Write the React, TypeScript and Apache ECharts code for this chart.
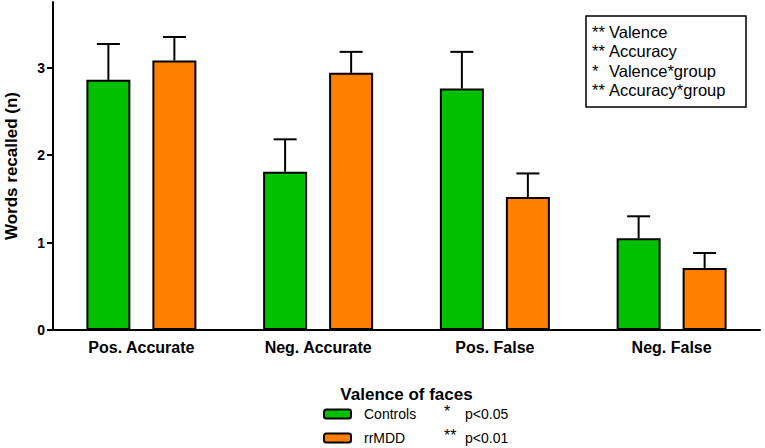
import React, { useEffect, useRef } from "react";
import * as echarts from "echarts";

const categories = ["Pos. Accurate", "Neg. Accurate", "Pos. False", "Neg. False"];
const controlsMean = [2.86, 1.81, 2.76, 1.05];
const controlsSem = [0.41, 0.37, 0.42, 0.25];
const rrmddMean = [3.08, 2.94, 1.52, 0.71];
const rrmddSem = [0.27, 0.24, 0.27, 0.17];
const yTicks = [0, 1, 2, 3];
const statsLines = [
  ["**", "Valence"],
  ["**", "Accuracy"],
  ["*", "Valence*group"],
  ["**", "Accuracy*group"],
];
const pLegend = [
  ["*", "p<0.05"],
  ["**", "p<0.01"],
];

const FONT = "'Liberation Sans', Arial, Helvetica, sans-serif";
const GREEN = "#00c000";
const ORANGE = "#ff8000";
const BAR_W = 44;
const OFFSET = 33;

function errorSeries(name: string, means: number[], sems: number[], dir: number) {
  return {
    type: "custom",
    name,
    z: 5,
    data: means.map((m, i) => [i, m, sems[i]]),
    renderItem: (params: any, api: any) => {
      const i = api.value(0);
      const v = api.value(1);
      const e = api.value(2);
      const base = api.coord([i, v]);
      const top = api.coord([i, v + e]);
      const cx = base[0] + dir * OFFSET;
      const st = { stroke: "#000", lineWidth: 2 };
      return {
        type: "group",
        children: [
          { type: "line", shape: { x1: cx, y1: base[1], x2: cx, y2: top[1] }, style: st },
          { type: "line", shape: { x1: cx - 11.5, y1: top[1], x2: cx + 11.5, y2: top[1] }, style: st },
        ],
      };
    },
  };
}

export default function App() {
  const ref = useRef<HTMLDivElement>(null);
  useEffect(() => {
    if (!ref.current) return;
    const chart = echarts.init(ref.current, undefined, { renderer: "svg" });
    const graphics: any[] = [
      {
        type: "rect",
        shape: { x: 586, y: 16, width: 160, height: 91 },
        style: { fill: "#fff", stroke: "#000", lineWidth: 1.5 },
        z: 10,
      },
    ];
    statsLines.forEach((l, k) => {
      const y = 31.5 + k * 19.5;
      graphics.push({
        type: "text",
        x: 592,
        y,
        z: 11,
        style: { text: l[0], font: `16.5px ${FONT}`, fill: "#000", textVerticalAlign: "middle" },
      });
      graphics.push({
        type: "text",
        x: 609,
        y,
        z: 11,
        style: { text: l[1], font: `16.5px ${FONT}`, fill: "#000", textVerticalAlign: "middle" },
      });
    });
    pLegend.forEach((l, k) => {
      const y = 413.5 + k * 24.5;
      graphics.push({
        type: "text",
        x: 444,
        y: 411 + k * 24,
        style: {
          text: l[0],
          font: `16px ${FONT}`,
          lineHeight: 10,
          fill: "#000",
          textVerticalAlign: "middle",
        },
      });
      graphics.push({
        type: "text",
        x: 465,
        y,
        style: { text: l[1], font: `14px ${FONT}`, fill: "#000", textVerticalAlign: "middle" },
      });
    });

    chart.setOption({
      animation: false,
      backgroundColor: "#fff",
      textStyle: { fontFamily: FONT },
      grid: { left: 53, right: 5, top: 2, bottom: 118, containLabel: false, outerBoundsMode: "none" },
      legend: {
        data: ["Controls", "rrMDD"],
        orient: "vertical",
        left: 323,
        top: 406,
        padding: 0,
        itemWidth: 27,
        itemHeight: 9,
        itemGap: 8,
        textStyle: { fontSize: 14, lineHeight: 16, color: "#000", fontFamily: FONT, padding: [0, 0, 0, 8] },
        selectedMode: false,
      },
      xAxis: {
        type: "category",
        data: categories,
        boundaryGap: true,
        name: "Valence of faces",
        nameLocation: "middle",
        nameGap: 57,
        nameTextStyle: { fontSize: 17, lineHeight: 14, fontWeight: "bold", color: "#000", fontFamily: FONT },
        axisLine: { lineStyle: { color: "#000", width: 2 } },
        axisTick: { alignWithLabel: true, length: 6, lineStyle: { color: "#000", width: 2 } },
        axisLabel: { fontSize: 16, fontWeight: "bold", color: "#000", margin: 9, fontFamily: FONT },
      },
      yAxis: {
        type: "value",
        min: 0,
        max: 3.75,
        interval: 1,
        name: "Words recalled (n)",
        nameLocation: "middle",
        nameGap: 33,
        nameRotate: 90,
        nameTextStyle: { fontSize: 17, fontWeight: "bold", color: "#000", fontFamily: FONT },
        axisLine: { show: true, lineStyle: { color: "#000", width: 2 } },
        axisTick: { show: true, length: 6, customValues: yTicks, lineStyle: { color: "#000", width: 2 } },
        axisLabel: { fontSize: 14, fontWeight: "bold", color: "#000", margin: 8, customValues: yTicks, fontFamily: FONT },
        splitLine: { show: false },
      },
      series: [
        {
          type: "bar",
          name: "Controls",
          data: controlsMean,
          barWidth: BAR_W,
          barGap: "50%",
          itemStyle: { color: GREEN, borderColor: "#000", borderWidth: 2 },
        },
        {
          type: "bar",
          name: "rrMDD",
          data: rrmddMean,
          barWidth: BAR_W,
          barGap: "50%",
          itemStyle: { color: ORANGE, borderColor: "#000", borderWidth: 2 },
        },
        errorSeries("Controls SEM", controlsMean, controlsSem, -1),
        errorSeries("rrMDD SEM", rrmddMean, rrmddSem, 1),
      ],
      graphic: graphics,
    });
    return () => chart.dispose();
  }, []);
  return <div ref={ref} style={{ position: "absolute", left: 0, top: 0, width: 765, height: 448 }} />;
}
